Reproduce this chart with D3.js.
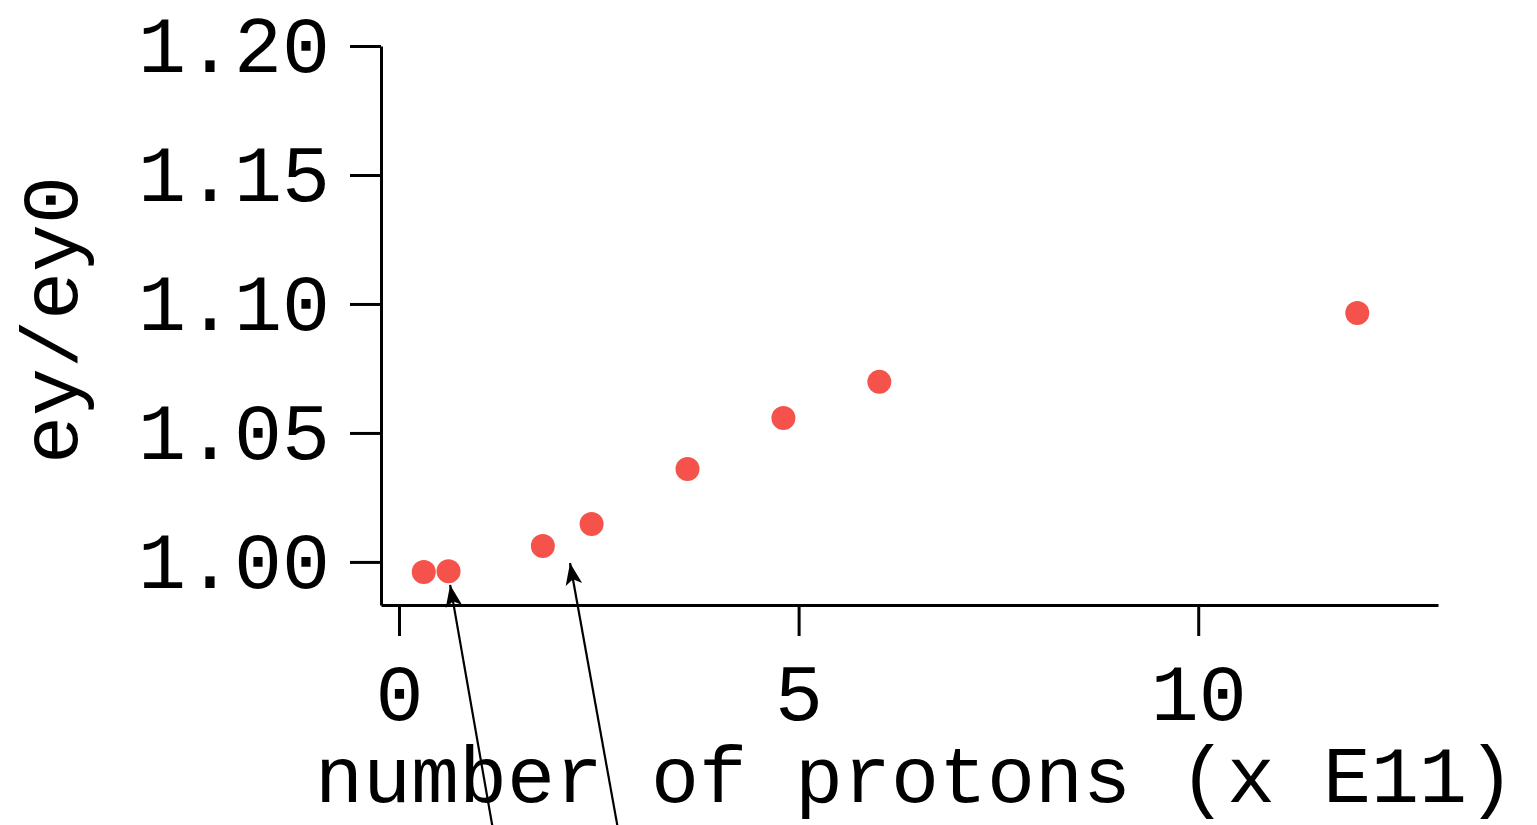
<!DOCTYPE html>
<meta charset="utf-8">
<head>
  <title>ey/ey0 vs number of protons</title>
  <script src="https://cdn.jsdelivr.net/npm/d3@7"></script>
  <style>
    body { margin: 0; background: #fff; }
    .axis path, .axis line { stroke: #000; stroke-width: 3; }
    .axis text { font-family: "Liberation Mono", "Courier New", monospace; font-size: 80px; fill: #000; }
    .label { font-family: "Liberation Mono", "Courier New", monospace; font-size: 80px; fill: #000; }
  </style>
</head>
<body>
<div id="chart"></div>
<script>
  // data
  var protons = [0.31, 0.62, 1.80, 2.41, 3.61, 4.81, 6.01, 11.99];
  var emitRatio = [0.9961, 0.9964, 1.0062, 1.0147, 1.0360, 1.0558, 1.0698, 1.0965];
  var xTicks = [0, 5, 10];
  var yTicks = [1.00, 1.05, 1.10, 1.15, 1.20];
  // arrow annotations: tip and tail in data units
  var arrowTipX = [0.64, 2.14];
  var arrowTipY = [0.9911, 0.9996];
  var arrowTailX = [1.33, 2.90];
  var arrowTailY = [0.869, 0.869];

  var w = 1537, h = 825;
  var svg = d3.select("#chart").append("svg")
      .attr("width", w).attr("height", h);

  var x = d3.scaleLinear().domain([-0.225, 13]).range([381, 1438]);
  var y = d3.scaleLinear().domain([0.9833, 1.20]).range([605, 46]);

  svg.append("g")
    .attr("class", "axis")
    .attr("transform", "translate(0,605)")
    .call(d3.axisBottom(x).tickValues(xTicks).tickSize(31).tickPadding(27).tickSizeOuter(0))
    .call(g => g.selectAll("text").attr("dy", "0.71em"));

  svg.append("g")
    .attr("class", "axis")
    .attr("transform", "translate(381,0)")
    .call(d3.axisLeft(y).tickValues(yTicks).tickFormat(d3.format(".2f")).tickSize(31).tickPadding(20).tickSizeOuter(0));

  // points
  svg.append("g").selectAll("circle")
    .data(protons)
    .enter().append("circle")
    .attr("cx", d => x(d))
    .attr("cy", (d, i) => y(emitRatio[i]))
    .attr("r", 12)
    .attr("fill", "#f5524b");

  // arrowhead
  svg.append("defs").append("marker")
    .attr("id", "head")
    .attr("viewBox", "0 0 10 10")
    .attr("refX", 10).attr("refY", 5)
    .attr("markerWidth", 10).attr("markerHeight", 10)
    .attr("markerUnits", "strokeWidth")
    .attr("orient", "auto")
    .append("path").attr("d", "M0,1.2 L10,5 L0,8.8 L2.5,5 z").attr("fill", "#000");

  svg.append("g").selectAll("line")
    .data(arrowTipX)
    .enter().append("line")
    .attr("x1", (d, i) => x(arrowTailX[i]))
    .attr("y1", (d, i) => y(arrowTailY[i]))
    .attr("x2", d => x(d))
    .attr("y2", (d, i) => y(arrowTipY[i]))
    .attr("stroke", "#000")
    .attr("stroke-width", 2.2)
    .attr("marker-end", "url(#head)");

  // axis labels
  svg.append("text")
    .attr("class", "label")
    .attr("text-anchor", "middle")
    .attr("x", 915).attr("y", 802)
    .text("number of protons (x E11)");

  svg.append("text")
    .attr("class", "label")
    .attr("text-anchor", "middle")
    .attr("transform", "translate(77,320) rotate(-90)")
    .text("ey/ey0");
</script>
</body>
</html>
